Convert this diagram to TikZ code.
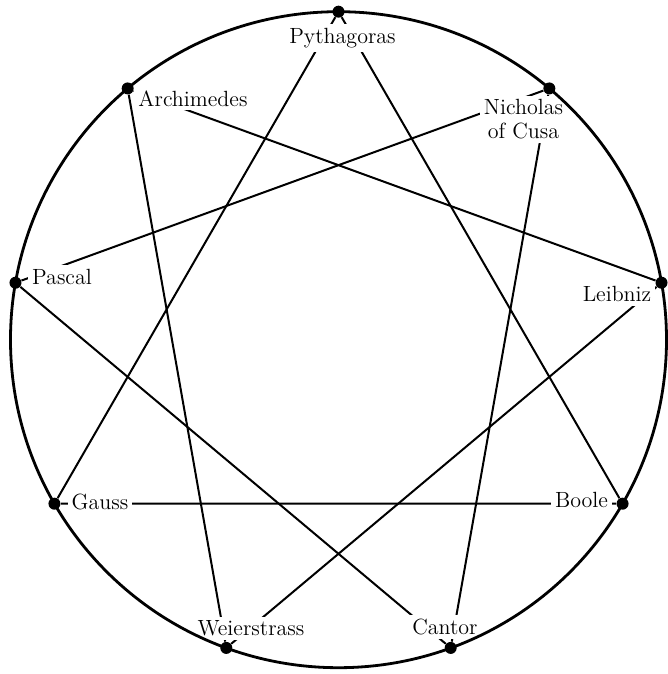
\documentclass[tikz,border=0pt]{standalone}
\usetikzlibrary{backgrounds}

\begin{document}
\begin{tikzpicture}[x=1pt, y=1pt, every node/.style={font=\fontsize{11}{11.7}\selectfont}, lbl/.style={fill=white, inner sep=2pt, align=center}, dot/.style={circle, fill, inner sep=0pt, minimum size=6pt}, chord/.style={line width=1pt}, rim/.style={line width=1.4pt}]
\useasboundingbox (-169.25,-167.15) rectangle (164.75,169.85);
% names
\node[lbl] (pythname) at (2,151) {Pythagoras};
\node[lbl] (cusaname) at (92.5,110.3) {Nicholas\\of Cusa};
\node[lbl] (leibname) at (139.25,22.8) {Leibniz};
\node[lbl] (boolename) at (121.5,-80.2) {Boole};
\node[lbl] (cantorname) at (53.25,-143.5) {Cantor};
\node[lbl] (weiername) at (-43.75,-144.4) {Weierstrass};
\node[lbl] (gaussname) at (-119.25,-81) {Gauss};
\node[lbl] (pascalname) at (-138.25,31.5) {Pascal};
\node[lbl] (archiname) at (-72.75,120.65) {Archimedes};
% circle and points
\draw[rim] (0,0) circle (164);
\node[dot] (pyth) at (90:164) {};
\node[dot] (cusa) at (50:164) {};
\node[dot] (leib) at (10:164) {};
\node[dot] (boole) at (-30:164) {};
\node[dot] (cantor) at (-70:164) {};
\node[dot] (weier) at (-110:164) {};
\node[dot] (gauss) at (-150:164) {};
\node[dot] (pascal) at (170:164) {};
\node[dot] (archi) at (130:164) {};
% three triangles, under the names
\begin{scope}[on background layer]
\draw[chord] (pyth) -- (boole) -- (gauss) -- (pyth);
\draw[chord] (cusa) -- (cantor) -- (pascal) -- (cusa);
\draw[chord] (leib) -- (weier) -- (archi) -- (leib);
\end{scope}
\end{tikzpicture}
\end{document}
